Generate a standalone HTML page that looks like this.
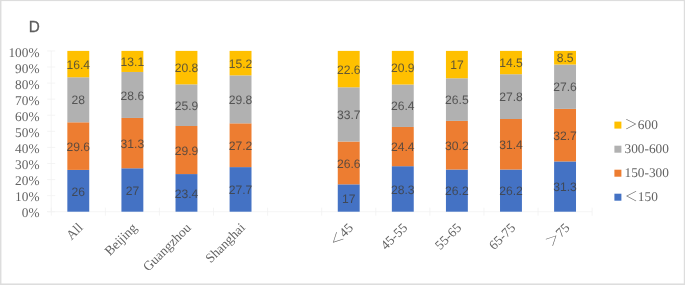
<!DOCTYPE html>
<html><head><meta charset="utf-8"><title>D</title>
<style>
html,body{margin:0;padding:0;background:#fff;}
body{width:685px;height:285px;overflow:hidden;position:relative;}
svg{position:absolute;left:0;top:0;display:block;}
text{text-rendering:geometricPrecision;}
.ax{font-family:"Liberation Serif","Noto Serif CJK SC",serif;font-size:13.33px;fill:#636363;}
.dl{font-family:"Liberation Sans","DejaVu Sans",sans-serif;font-size:12.3px;fill:#404040;fill-opacity:.82;text-anchor:middle;}
.ttl{font-family:"Liberation Sans",sans-serif;font-size:16.1px;fill:#5e5e5e;}
</style></head><body>
<svg width="685" height="285" viewBox="0 0 685 285">
<rect x="0" y="0" width="685" height="285" fill="#fff"/>
<g fill="#DDDDDD"><rect x="0" y="0" width="685" height="1.1"/><rect x="0" y="0" width="1.45" height="285"/><rect x="683.8" y="0" width="1.2" height="285"/><rect x="0" y="283.45" width="685" height="1.55"/></g>

<g stroke="#F1F1F1" stroke-width="0.8" fill="none">
<line x1="51.2" y1="50.9" x2="51.2" y2="211.7"/>
<line x1="47.2" y1="211.7" x2="592.1" y2="211.7"/>
<line x1="47.2" y1="211.70" x2="55.2" y2="211.70"/>
<line x1="47.2" y1="195.62" x2="55.2" y2="195.62"/>
<line x1="47.2" y1="179.54" x2="55.2" y2="179.54"/>
<line x1="47.2" y1="163.46" x2="55.2" y2="163.46"/>
<line x1="47.2" y1="147.38" x2="55.2" y2="147.38"/>
<line x1="47.2" y1="131.30" x2="55.2" y2="131.30"/>
<line x1="47.2" y1="115.22" x2="55.2" y2="115.22"/>
<line x1="47.2" y1="99.14" x2="55.2" y2="99.14"/>
<line x1="47.2" y1="83.06" x2="55.2" y2="83.06"/>
<line x1="47.2" y1="66.98" x2="55.2" y2="66.98"/>
<line x1="47.2" y1="50.90" x2="55.2" y2="50.90"/>
<line x1="51.25" y1="207.7" x2="51.25" y2="215.7"/>
<line x1="105.34" y1="207.7" x2="105.34" y2="215.7"/>
<line x1="159.42" y1="207.7" x2="159.42" y2="215.7"/>
<line x1="213.50" y1="207.7" x2="213.50" y2="215.7"/>
<line x1="267.59" y1="207.7" x2="267.59" y2="215.7"/>
<line x1="321.68" y1="207.7" x2="321.68" y2="215.7"/>
<line x1="375.76" y1="207.7" x2="375.76" y2="215.7"/>
<line x1="429.85" y1="207.7" x2="429.85" y2="215.7"/>
<line x1="483.93" y1="207.7" x2="483.93" y2="215.7"/>
<line x1="538.01" y1="207.7" x2="538.01" y2="215.7"/>
<line x1="592.10" y1="207.7" x2="592.10" y2="215.7"/>
</g>
<g class="ax" text-anchor="end">
<text x="39.5" y="217.40">0%</text>
<text x="39.5" y="201.32">10%</text>
<text x="39.5" y="185.24">20%</text>
<text x="39.5" y="169.16">30%</text>
<text x="39.5" y="153.08">40%</text>
<text x="39.5" y="137.00">50%</text>
<text x="39.5" y="120.92">60%</text>
<text x="39.5" y="104.84">70%</text>
<text x="39.5" y="88.76">80%</text>
<text x="39.5" y="72.68">90%</text>
<text x="39.5" y="56.60">100%</text>
</g>
<rect x="67.34" y="169.89" width="21.90" height="41.81" fill="#4472C4"/>
<rect x="67.34" y="122.30" width="21.90" height="47.60" fill="#ED7D31"/>
<rect x="67.34" y="77.27" width="21.90" height="45.02" fill="#B1B1B1"/>
<rect x="67.34" y="50.90" width="21.90" height="26.37" fill="#FFC000"/>
<text class="dl" transform="translate(78.29,195.50) scale(0.985,1)">26</text>
<text class="dl" transform="translate(78.29,150.79) scale(0.985,1)">29.6</text>
<text class="dl" transform="translate(78.29,104.48) scale(0.985,1)">28</text>
<text class="dl" transform="translate(78.29,68.79) scale(0.985,1)">16.4</text>
<rect x="121.43" y="168.28" width="21.90" height="43.42" fill="#4472C4"/>
<rect x="121.43" y="117.95" width="21.90" height="50.33" fill="#ED7D31"/>
<rect x="121.43" y="71.96" width="21.90" height="45.99" fill="#B1B1B1"/>
<rect x="121.43" y="50.90" width="21.90" height="21.06" fill="#FFC000"/>
<text class="dl" transform="translate(132.38,194.69) scale(0.985,1)">27</text>
<text class="dl" transform="translate(132.38,147.82) scale(0.985,1)">31.3</text>
<text class="dl" transform="translate(132.38,99.66) scale(0.985,1)">28.6</text>
<text class="dl" transform="translate(132.38,66.13) scale(0.985,1)">13.1</text>
<rect x="175.51" y="174.07" width="21.90" height="37.63" fill="#4472C4"/>
<rect x="175.51" y="125.99" width="21.90" height="48.08" fill="#ED7D31"/>
<rect x="175.51" y="84.35" width="21.90" height="41.65" fill="#B1B1B1"/>
<rect x="175.51" y="50.90" width="21.90" height="33.45" fill="#FFC000"/>
<text class="dl" transform="translate(186.46,197.59) scale(0.985,1)">23.4</text>
<text class="dl" transform="translate(186.46,154.73) scale(0.985,1)">29.9</text>
<text class="dl" transform="translate(186.46,109.87) scale(0.985,1)">25.9</text>
<text class="dl" transform="translate(186.46,72.32) scale(0.985,1)">20.8</text>
<rect x="229.60" y="167.11" width="21.90" height="44.59" fill="#4472C4"/>
<rect x="229.60" y="123.33" width="21.90" height="43.78" fill="#ED7D31"/>
<rect x="229.60" y="75.37" width="21.90" height="47.97" fill="#B1B1B1"/>
<rect x="229.60" y="50.90" width="21.90" height="24.47" fill="#FFC000"/>
<text class="dl" transform="translate(240.55,194.11) scale(0.985,1)">27.7</text>
<text class="dl" transform="translate(240.55,149.92) scale(0.985,1)">27.2</text>
<text class="dl" transform="translate(240.55,104.05) scale(0.985,1)">29.8</text>
<text class="dl" transform="translate(240.55,67.83) scale(0.985,1)">15.2</text>
<rect x="337.77" y="184.34" width="21.90" height="27.36" fill="#4472C4"/>
<rect x="337.77" y="141.52" width="21.90" height="42.82" fill="#ED7D31"/>
<rect x="337.77" y="87.28" width="21.90" height="54.24" fill="#B1B1B1"/>
<rect x="337.77" y="50.90" width="21.90" height="36.38" fill="#FFC000"/>
<text class="dl" transform="translate(348.72,202.72) scale(0.985,1)">17</text>
<text class="dl" transform="translate(348.72,167.63) scale(0.985,1)">26.6</text>
<text class="dl" transform="translate(348.72,119.10) scale(0.985,1)">33.7</text>
<text class="dl" transform="translate(348.72,73.79) scale(0.985,1)">22.6</text>
<rect x="391.85" y="166.19" width="21.90" height="45.51" fill="#4472C4"/>
<rect x="391.85" y="126.96" width="21.90" height="39.24" fill="#ED7D31"/>
<rect x="391.85" y="84.51" width="21.90" height="42.45" fill="#B1B1B1"/>
<rect x="391.85" y="50.90" width="21.90" height="33.61" fill="#FFC000"/>
<text class="dl" transform="translate(402.80,193.65) scale(0.985,1)">28.3</text>
<text class="dl" transform="translate(402.80,151.28) scale(0.985,1)">24.4</text>
<text class="dl" transform="translate(402.80,110.43) scale(0.985,1)">26.4</text>
<text class="dl" transform="translate(402.80,72.40) scale(0.985,1)">20.9</text>
<rect x="445.94" y="169.53" width="21.90" height="42.17" fill="#4472C4"/>
<rect x="445.94" y="120.92" width="21.90" height="48.61" fill="#ED7D31"/>
<rect x="445.94" y="78.26" width="21.90" height="42.65" fill="#B1B1B1"/>
<rect x="445.94" y="50.90" width="21.90" height="27.36" fill="#FFC000"/>
<text class="dl" transform="translate(456.89,195.31) scale(0.985,1)">26.2</text>
<text class="dl" transform="translate(456.89,149.92) scale(0.985,1)">30.2</text>
<text class="dl" transform="translate(456.89,104.29) scale(0.985,1)">26.5</text>
<text class="dl" transform="translate(456.89,69.28) scale(0.985,1)">17</text>
<rect x="500.02" y="169.53" width="21.90" height="42.17" fill="#4472C4"/>
<rect x="500.02" y="118.99" width="21.90" height="50.54" fill="#ED7D31"/>
<rect x="500.02" y="74.24" width="21.90" height="44.75" fill="#B1B1B1"/>
<rect x="500.02" y="50.90" width="21.90" height="23.34" fill="#FFC000"/>
<text class="dl" transform="translate(510.97,195.31) scale(0.985,1)">26.2</text>
<text class="dl" transform="translate(510.97,148.96) scale(0.985,1)">31.4</text>
<text class="dl" transform="translate(510.97,101.31) scale(0.985,1)">27.8</text>
<text class="dl" transform="translate(510.97,67.27) scale(0.985,1)">14.5</text>
<rect x="554.11" y="161.42" width="21.90" height="50.28" fill="#4472C4"/>
<rect x="554.11" y="108.89" width="21.90" height="52.53" fill="#ED7D31"/>
<rect x="554.11" y="64.55" width="21.90" height="44.34" fill="#B1B1B1"/>
<rect x="554.11" y="50.90" width="21.90" height="13.65" fill="#FFC000"/>
<text class="dl" transform="translate(565.06,191.26) scale(0.985,1)">31.3</text>
<text class="dl" transform="translate(565.06,139.86) scale(0.985,1)">32.7</text>
<text class="dl" transform="translate(565.06,91.42) scale(0.985,1)">27.6</text>
<text class="dl" transform="translate(565.06,62.43) scale(0.985,1)">8.5</text>
<g class="ax" text-anchor="end">
<text transform="translate(83.59,228.50) rotate(-45)" x="0" y="0">All</text>
<text transform="translate(137.68,228.50) rotate(-45)" x="0" y="0">Beijing</text>
<text transform="translate(191.76,228.50) rotate(-45)" x="0" y="0">Guangzhou</text>
<text transform="translate(245.85,228.50) rotate(-45)" x="0" y="0">Shanghai</text>
<text transform="translate(354.02,228.50) rotate(-45)" x="0" y="0">＜45</text>
<text transform="translate(408.10,228.50) rotate(-45)" x="0" y="0">45-55</text>
<text transform="translate(462.19,228.50) rotate(-45)" x="0" y="0">55-65</text>
<text transform="translate(516.27,228.50) rotate(-45)" x="0" y="0">65-75</text>
<text transform="translate(570.36,228.50) rotate(-45)" x="0" y="0">＞75</text>
</g>
<rect x="614.4" y="121.6" width="7" height="7" fill="#FFC000"/>
<text class="ax" x="624.5" y="128.8">＞600</text>
<rect x="614.4" y="145.7" width="7" height="7" fill="#B1B1B1"/>
<text class="ax" x="624.5" y="152.9">300-600</text>
<rect x="614.4" y="169.7" width="7" height="7" fill="#ED7D31"/>
<text class="ax" x="624.5" y="176.9">150-300</text>
<rect x="614.4" y="193.7" width="7" height="7" fill="#4472C4"/>
<text class="ax" x="624.5" y="200.9">＜150</text>
<text class="ttl" stroke="#5e5e5e" stroke-width="0.3" transform="translate(28.8,32) scale(0.95,1)">D</text>
</svg></body></html>
